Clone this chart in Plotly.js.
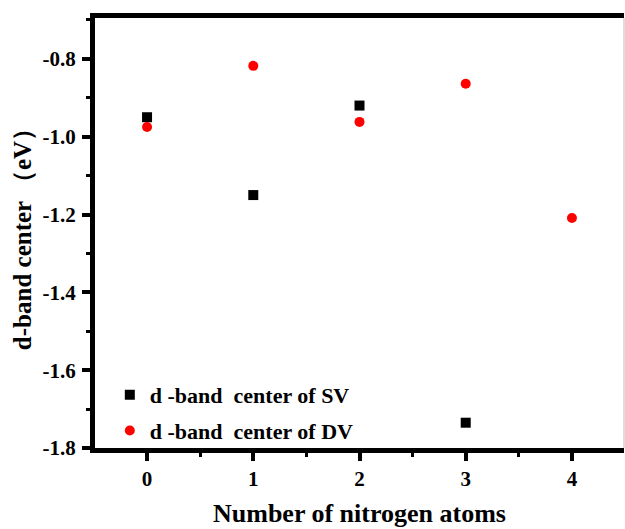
<!DOCTYPE html>
<html>
<head>
<meta charset="utf-8">
<script src="https://cdn.plot.ly/plotly-3.0.1.min.js"></script>
<style>html,body{margin:0;padding:0;background:#fff;}</style>
</head>
<body>
<div id="chart" style="width:625px;height:529px;"></div>
<script>
const nitrogenAtoms = [0, 1, 2, 3, 4];
const svX = [0, 1, 2, 3];
const svValues = [-0.95, -1.15, -0.92, -1.735];
const dvX = [0, 1, 2, 3, 4];
const dvValues = [-0.975, -0.818, -0.962, -0.864, -1.209];
const xTicks = [0, 1, 2, 3, 4];
const yTicks = [-1.8, -1.6, -1.4, -1.2, -1.0, -0.8];
const yTickText = ['-1.8', '-1.6', '-1.4', '-1.2', '-1.0', '-0.8'];

const font = 'Liberation Serif, Times New Roman, serif';

const traces = [
  {x: svX, y: svValues, mode: 'markers', type: 'scatter', name: 'd -band  center of SV', legendgroup: 'sv',
   marker: {symbol: 'square', size: 10, color: '#000000'}},
  {x: dvX, y: dvValues, mode: 'markers', type: 'scatter', name: 'd -band  center of DV', legendgroup: 'dv',
   marker: {symbol: 'circle', size: 10, color: '#ff0000'}}
];

const layout = {
  width: 625, height: 529,
  margin: {l: 95, r: 1, t: 18, b: 81},
  paper_bgcolor: '#ffffff', plot_bgcolor: '#ffffff',
  font: {family: font, size: 16, color: '#000000', weight: 'bold'},
  showlegend: true,
  legend: {x: 0.028, y: 0.172, xanchor: 'left', yanchor: 'top', bgcolor: 'rgba(0,0,0,0)',
           font: {family: font, size: 22, weight: 'bold'}, tracegroupgap: 4, itemwidth: 30},
  xaxis: {
    range: [-0.49, 4.49], tickvals: xTicks, ticktext: xTicks.map(String),
    showgrid: false, zeroline: false,
    showline: true, linecolor: '#000', linewidth: 5, mirror: true,
    ticks: 'outside', ticklen: 8, tickwidth: 4, tickcolor: '#000',
    minor: {dtick: 0.5, tick0: 0.5, ticks: 'outside', ticklen: 4, tickwidth: 3, tickcolor: '#000', showgrid: false},
    tickfont: {family: font, size: 21, weight: 'bold'},
    title: {text: 'Number of nitrogen atoms', font: {family: font, size: 26, weight: 'bold'}, standoff: 15}
  },
  yaxis: {
    range: [-1.8, -0.695], tickvals: yTicks, ticktext: yTickText,
    showgrid: false, zeroline: false,
    showline: true, linecolor: '#000', linewidth: 5, mirror: false,
    ticks: 'outside', ticklen: 8, tickwidth: 4, tickcolor: '#000', ticklabelstandoff: 2,
    minor: {dtick: 0.1, tick0: -1.7, ticks: 'outside', ticklen: 4, tickwidth: 3, tickcolor: '#000', showgrid: false},
    tickfont: {family: font, size: 21, weight: 'bold'},
    title: {text: 'd-band center （eV）', font: {family: font, size: 25, weight: 'bold'}, standoff: 5}
  },
  shapes: [
    {type: 'line', xref: 'paper', yref: 'paper', x0: 1, x1: 1, y0: 0, y1: 1,
     line: {color: '#bbbbbb', width: 1}}
  ]
};

Plotly.newPlot('chart', traces, layout, {displayModeBar: false, staticPlot: true});
</script>
</body>
</html>
